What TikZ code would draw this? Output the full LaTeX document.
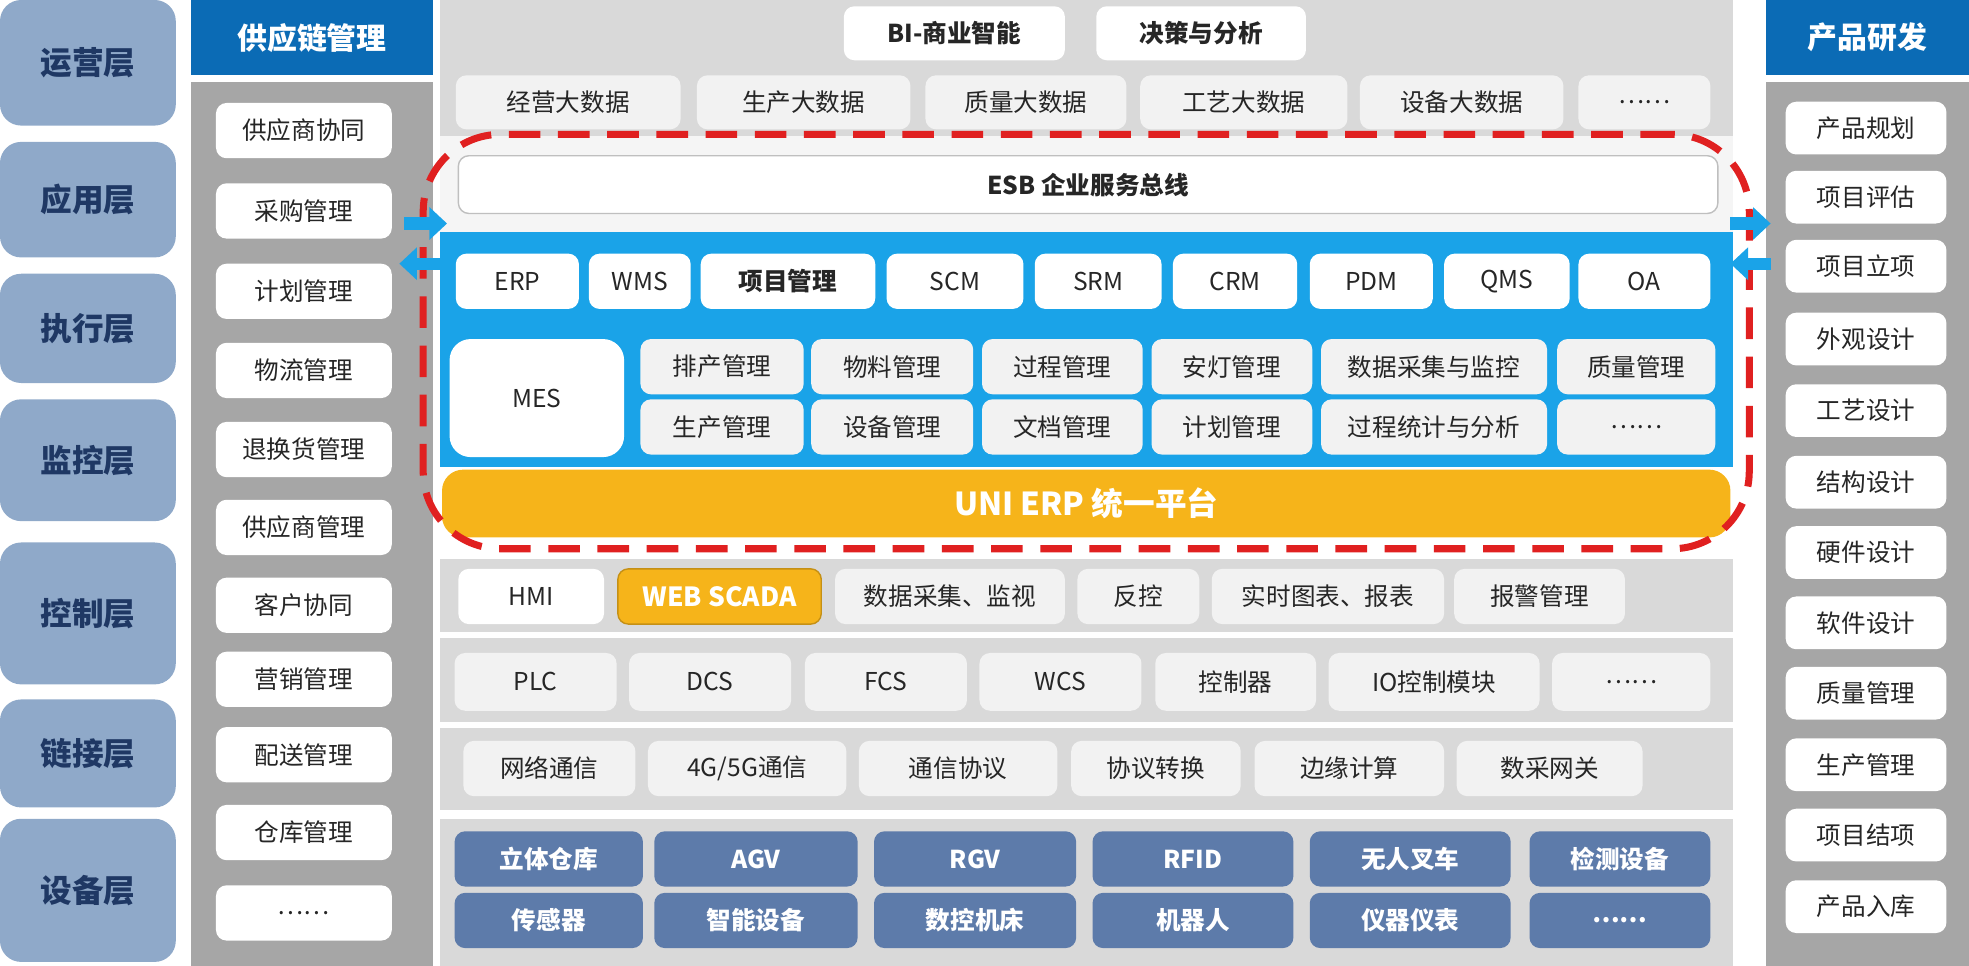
\documentclass[tikz,border=0pt]{standalone}
\usepackage{fontspec}
\setmainfont{Noto Sans CJK SC}
\usetikzlibrary{arrows.meta}
\definecolor{layerc}{HTML}{8FA9C9}
\definecolor{navy}{HTML}{1F3864}
\definecolor{hdr}{HTML}{0B6BB5}
\definecolor{gpan}{HTML}{A6A6A6}
\definecolor{band}{HTML}{D9D9D9}
\definecolor{lbox}{HTML}{F2F2F2}
\definecolor{skyb}{HTML}{1AA3E8}
\definecolor{orng}{HTML}{F6B41A}
\definecolor{devb}{HTML}{5D7BAA}
\definecolor{redd}{HTML}{E02020}
\newcounter{bxn}
\newcommand\bx[6]{\stepcounter{bxn}\node[#5,minimum width={((#3)-(#1))*0.1256mm},minimum height={((#4)-(#2))*0.1256mm}] (b\thebxn) at ({((#1)+(#3))/2},{((#2)+(#4))/2}) {#6};}
\tikzset{
 lay/.style={fill=layerc,rounded corners=6pt,text=navy,font=\fontsize{9pt}{10pt}\selectfont\bfseries,inner sep=0pt},
 wb/.style={fill=white,rounded corners=3pt,text=black!85,font=\fontsize{7pt}{8pt}\selectfont,inner sep=0pt},
 wbb/.style={wb,font=\fontsize{7pt}{8pt}\selectfont\bfseries},
 lb/.style={fill=lbox,rounded corners=3pt,text=black!85,font=\fontsize{7pt}{8pt}\selectfont,inner sep=0pt},
 hd/.style={fill=hdr,text=white,font=\fontsize{8.5pt}{9pt}\selectfont\bfseries,inner sep=0pt},
 pan/.style={fill=gpan,inner sep=0pt},
 bnd/.style={fill=band,inner sep=0pt},
 db/.style={fill=devb,rounded corners=3pt,text=white,font=\fontsize{7pt}{8pt}\selectfont\bfseries,inner sep=0pt},
 ob/.style={fill=orng,rounded corners=3pt,text=white,font=\fontsize{7.5pt}{8pt}\selectfont\bfseries,inner sep=0pt},
 bar/.style={-{Triangle[length=5pt,width=9pt]},line width=3.5pt,skyb},
}
\begin{document}
\begin{tikzpicture}[x=0.1256mm,y=-0.1256mm]
\useasboundingbox (0,0) rectangle (1568,769);
% left layers
\bx{0}{0}{140}{100}{lay}{运营层}
\bx{0}{113}{140}{205}{lay}{应用层}
\bx{0}{218}{140}{305}{lay}{执行层}
\bx{0}{318}{140}{415}{lay}{监控层}
\bx{0}{432}{140}{545}{lay}{控制层}
\bx{0}{557}{140}{643}{lay}{链接层}
\bx{0}{652}{140}{766}{lay}{设备层}
% supply chain
\bx{152}{0}{345}{60}{hd}{供应链管理}
\bx{152}{65}{345}{769}{pan}{}
\foreach \c/\t in {104/供应商协同,168/采购管理,232/计划管理,295/物流管理,358/退换货管理,420/供应商管理,482/客户协同,541/营销管理,601/配送管理,663/仓库管理,727/……}
 {\bx{172}{\c-22}{312}{\c+22}{wb}{\t}}
% product dev
\bx{1406}{0}{1568}{60}{hd}{产品研发}
\bx{1406}{65}{1568}{769}{pan}{}
\foreach \c/\t in {102/产品规划,157/项目评估,212/项目立项,270/外观设计,327/工艺设计,384/结构设计,440/硬件设计,496/软件设计,552/质量管理,609/生产管理,665/项目结项,722/产品入库}
 {\bx{1422}{\c-21}{1550}{\c+21}{wb}{\t}}
% top band
\bx{350}{0}{1380}{108}{bnd}{}
\bx{672}{5}{848}{48}{wbb}{BI-商业智能}
\bx{873}{5}{1040}{48}{wbb}{决策与分析}
\foreach \a/\b/\t in {363/542/经营大数据,555/725/生产大数据,737/897/质量大数据,908/1073/工艺大数据,1083/1245/设备大数据,1257/1362/……}
 {\bx{\a}{60}{\b}{103}{lb}{\t}}
% ESB
\bx{350}{108}{1380}{185}{fill=black!4,inner sep=0pt}{}
\bx{365}{124}{1368}{170}{wbb,draw=black!25}{ESB 企业服务总线}
% blue panel
\bx{350}{185}{1380}{372}{fill=skyb,inner sep=0pt}{}
\foreach \a/\b/\t in {363/461/ERP,469/550/WMS,706/815/SCM,824/925/SRM,934/1033/CRM,1043/1141/PDM,1150/1250/QMS,1257/1362/OA}
 {\bx{\a}{202}{\b}{246}{wb}{\t}}
\bx{558}{202}{697}{246}{wbb}{项目管理}
\bx{358}{270}{497}{364}{wb,rounded corners=6pt}{MES}
\foreach \a/\b/\t/\u in {510/640/排产管理/生产管理,646/775/物料管理/设备管理,782/910/过程管理/文档管理,917/1045/安灯管理/计划管理,1052/1232/数据采集与监控/过程统计与分析,1240/1366/质量管理/……}
 {\bx{\a}{270}{\b}{314}{lb}{\t}\bx{\a}{318}{\b}{362}{lb}{\u}}
\bx{352}{374}{1378}{428}{ob,rounded corners=6pt,font=\fontsize{9pt}{10pt}\selectfont\bfseries}{UNI ERP 统一平台}
% dashed red frame
\node[draw=redd,dashed,line width=2pt,dash pattern=on 9pt off 5pt,rounded corners=22pt,minimum width={1056*0.1256mm},minimum height={330*0.1256mm}] (frame) at (865,272) {};
% arrows
\coordinate (la1) at (322,178); \coordinate (la2) at (356,178);
\coordinate (lb1) at (352,210); \coordinate (lb2) at (318,210);
\coordinate (ra1) at (1378,178); \coordinate (ra2) at (1410,178);
\coordinate (rb1) at (1410,210); \coordinate (rb2) at (1378,210);
\draw[bar] (la1) -- (la2); \draw[bar] (lb1) -- (lb2);
\draw[bar] (ra1) -- (ra2); \draw[bar] (rb1) -- (rb2);
% monitor band
\bx{350}{445}{1380}{503}{bnd}{}
\bx{365}{453}{481}{497}{wb}{HMI}
\bx{492}{453}{654}{497}{ob,draw=orng!80!black}{WEB SCADA}
\foreach \a/\b/\t in {665/848/数据采集、监视,858/955/反控,965/1150/实时图表、报表,1158/1294/报警管理}
 {\bx{\a}{453}{\b}{497}{lb}{\t}}
% control band
\bx{350}{508}{1380}{575}{bnd}{}
\foreach \a/\b/\t in {362/491/PLC,501/630/DCS,641/770/FCS,780/909/WCS,920/1048/控制器,1058/1226/IO控制模块,1236/1362/……}
 {\bx{\a}{520}{\b}{566}{lb}{\t}}
% link band
\bx{350}{580}{1380}{645}{bnd}{}
\foreach \a/\b/\t in {369/506/网络通信,516/674/{4G/5G通信},684/842/通信协议,853/988/协议转换,999/1150/边缘计算,1160/1308/数采网关}
 {\bx{\a}{590}{\b}{634}{lb}{\t}}
% device band
\bx{350}{652}{1380}{769}{bnd}{}
\foreach \a/\b/\t/\u in {362/512/立体仓库/传感器,521/683/AGV/智能设备,696/857/RGV/数控机床,870/1030/RFID/机器人,1043/1203/无人叉车/仪器仪表,1218/1362/检测设备/……}
 {\bx{\a}{662}{\b}{706}{db}{\t}\bx{\a}{711}{\b}{755}{db}{\u}}
\end{tikzpicture}
\end{document}
